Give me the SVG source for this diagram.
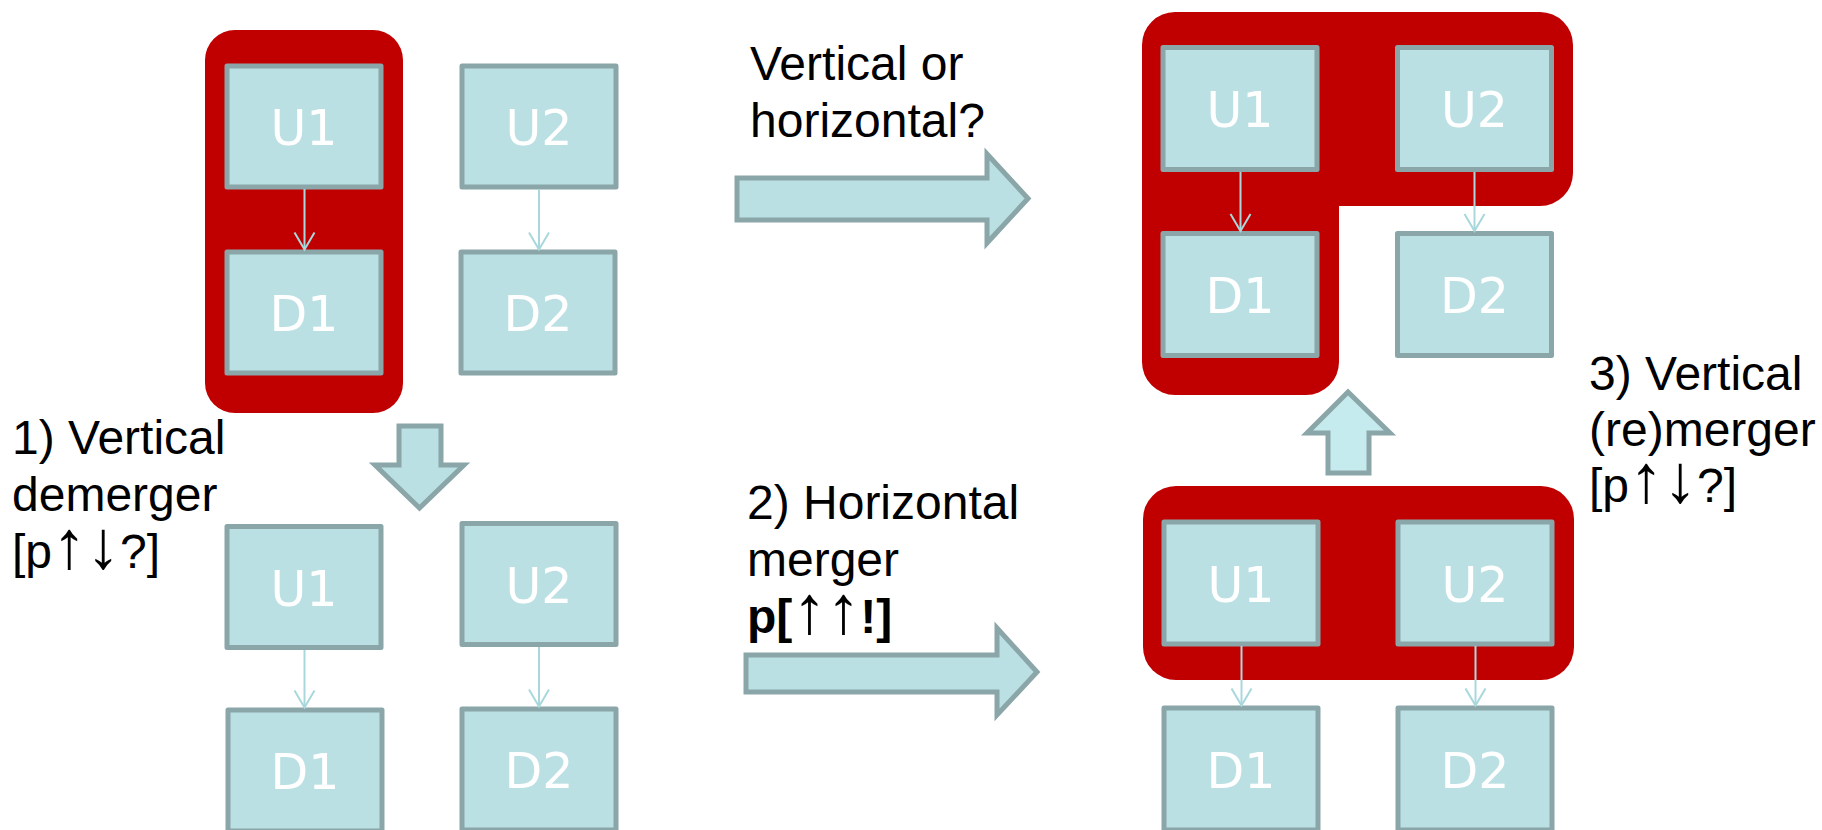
<svg xmlns="http://www.w3.org/2000/svg" width="1822" height="830" viewBox="0 0 1822 830">
<style>
.grp{fill:#c00000}
.box{fill:#bbe0e3;stroke:#8aa6a8;stroke-width:5;stroke-linejoin:round}
.bt{font-family:"DejaVu Sans",Verdana,sans-serif;font-size:49px;fill:#ffffff;text-anchor:middle}
.lbl{font-family:"Liberation Sans",Arial,sans-serif;font-size:48px;fill:#000000}
.ar{font-size:68px;font-weight:normal}
.big{fill:#bbe0e3;stroke:#8aa6a8;stroke-width:5;stroke-linejoin:miter}
.con{stroke:#a8d8dc;stroke-width:2;fill:none}
</style>
<defs>
<marker id="ah" viewBox="-20 -12 22 24" refX="0" refY="0" markerWidth="22" markerHeight="24" markerUnits="userSpaceOnUse" orient="auto">
<path d="M-17,-10 L0,0 L-17,10" fill="none" stroke="#a8d8dc" stroke-width="2"/>
</marker>
</defs>
<rect width="1822" height="830" fill="#ffffff"/>

<!-- group highlights -->
<g id="groups">
<rect class="grp" x="205" y="30" width="198" height="383" rx="30"/>
<path class="grp" d="M1175,12 H1540 A33,33 0 0 1 1573,45 V173 A33,33 0 0 1 1540,206 H1339 V362 A33,33 0 0 1 1306,395 H1175 A33,33 0 0 1 1142,362 V45 A33,33 0 0 1 1175,12 Z"/>
<rect class="grp" x="1143" y="486" width="431" height="194" rx="33"/>
</g>

<!-- big transition arrows -->
<g id="arrow-right-1"><polygon class="big" points="737,178 987,178 987,154 1028,198.5 987,243 987,220 737,220"/></g>
<g id="arrow-right-2"><polygon class="big" points="746,655 997,655 997,628 1037,672 997,715 997,692 746,692"/></g>
<g id="arrow-down"><polygon class="big" points="399,426 441,426 441,465 464,465 419.5,508 375,465 399,465"/></g>
<g id="arrow-up"><polygon class="big" style="fill:#c6ebee" points="1348,392 1390,433 1369,433 1369,473 1328,473 1328,433 1307,433"/></g>

<!-- panel A (top left) -->
<g id="a-U1"><rect class="box" x="227" y="66" width="154" height="121"/><text class="bt" x="304" y="145">U1</text></g>
<g id="a-D1"><rect class="box" x="227" y="252" width="154" height="121"/><text class="bt" x="304" y="331">D1</text></g>
<g id="a-U2"><rect class="box" x="462" y="66" width="154" height="121"/><text class="bt" x="539" y="145">U2</text></g>
<g id="a-D2"><rect class="box" x="461" y="252" width="154" height="121"/><text class="bt" x="538" y="331">D2</text></g>

<!-- panel B (bottom left) -->
<g id="b-U1"><rect class="box" x="227" y="526.5" width="154" height="121"/><text class="bt" x="304" y="605.5">U1</text></g>
<g id="b-U2"><rect class="box" x="462" y="523.5" width="154" height="121"/><text class="bt" x="539" y="602.5">U2</text></g>
<g id="b-D1"><rect class="box" x="228" y="710" width="154" height="121"/><text class="bt" x="305" y="789">D1</text></g>
<g id="b-D2"><rect class="box" x="462" y="709" width="154" height="121"/><text class="bt" x="539" y="788">D2</text></g>

<!-- panel C (top right) -->
<g id="c-U1"><rect class="box" x="1163" y="47.5" width="154" height="122"/><text class="bt" x="1240" y="127">U1</text></g>
<g id="c-U2"><rect class="box" x="1397.5" y="47.5" width="154" height="122"/><text class="bt" x="1474.5" y="127">U2</text></g>
<g id="c-D1"><rect class="box" x="1163" y="233.5" width="154" height="122"/><text class="bt" x="1240" y="313">D1</text></g>
<g id="c-D2"><rect class="box" x="1397.5" y="233.5" width="154" height="122"/><text class="bt" x="1474.5" y="313">D2</text></g>

<!-- panel D (bottom right) -->
<g id="d-U1"><rect class="box" x="1164" y="522" width="154" height="122"/><text class="bt" x="1241" y="601.5">U1</text></g>
<g id="d-U2"><rect class="box" x="1398" y="522" width="154" height="122"/><text class="bt" x="1475" y="601.5">U2</text></g>
<g id="d-D1"><rect class="box" x="1164" y="708" width="154" height="122"/><text class="bt" x="1241" y="787.5">D1</text></g>
<g id="d-D2"><rect class="box" x="1398" y="708" width="154" height="122"/><text class="bt" x="1475" y="787.5">D2</text></g>

<!-- connectors -->
<g id="connectors">
<line class="con" x1="304.5" y1="189" x2="304.5" y2="249.5" marker-end="url(#ah)"/>
<line class="con" x1="539" y1="189" x2="539" y2="249.5" marker-end="url(#ah)"/>
<line class="con" x1="304.5" y1="650" x2="304.5" y2="707.5" marker-end="url(#ah)"/>
<line class="con" x1="539" y1="647" x2="539" y2="706.5" marker-end="url(#ah)"/>
<line class="con" x1="1240.5" y1="172" x2="1240.5" y2="231" marker-end="url(#ah)"/>
<line class="con" x1="1474.5" y1="172" x2="1474.5" y2="231" marker-end="url(#ah)"/>
<line class="con" x1="1241.5" y1="646" x2="1241.5" y2="705.5" marker-end="url(#ah)"/>
<line class="con" x1="1475.5" y1="646" x2="1475.5" y2="705.5" marker-end="url(#ah)"/>
</g>

<!-- labels -->
<g id="label-question">
<text class="lbl" x="750" y="80">Vertical or</text>
<text class="lbl" x="750" y="137">horizontal?</text>
</g>
<g id="label-1">
<text class="lbl" x="12" y="454">1) Vertical</text>
<text class="lbl" x="12" y="511">demerger</text>
<text class="lbl" x="12" y="568">[p<tspan class="ar">↑↓</tspan>?]</text>
</g>
<g id="label-2">
<text class="lbl" x="747" y="519">2) Horizontal</text>
<text class="lbl" x="747" y="576">merger</text>
<text class="lbl" x="747" y="633"><tspan font-weight="bold">p[</tspan><tspan class="ar">↑↑</tspan><tspan font-weight="bold">!]</tspan></text>
</g>
<g id="label-3">
<text class="lbl" x="1589" y="390">3) Vertical</text>
<text class="lbl" x="1589" y="446">(re)merger</text>
<text class="lbl" x="1589" y="502">[p<tspan class="ar">↑↓</tspan>?]</text>
</g>
</svg>
